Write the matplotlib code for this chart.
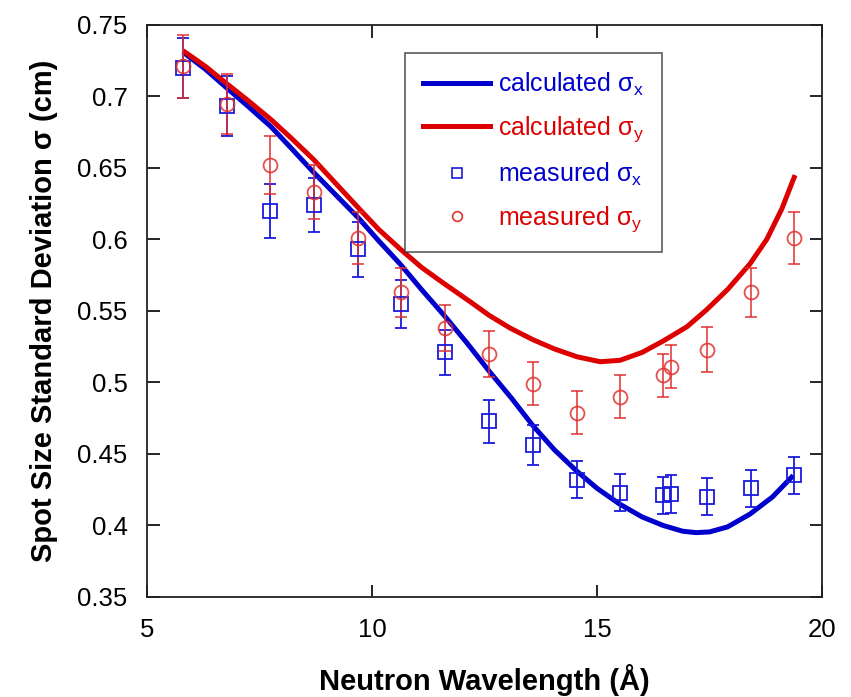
import matplotlib
matplotlib.use("Agg")
import matplotlib.pyplot as plt
from matplotlib.lines import Line2D

plt.rcParams['font.family'] = ['Liberation Sans', 'DejaVu Sans']
plt.rcParams['mathtext.fontset'] = 'custom'
plt.rcParams['mathtext.rm'] = 'Liberation Sans'

# measured data
wl = [5.8, 6.77, 7.73, 8.72, 9.69, 10.65, 11.63, 12.6, 13.57, 14.55, 15.51, 16.47, 16.64, 17.44, 18.42, 19.38]
sx = [0.720, 0.693, 0.620, 0.624, 0.593, 0.555, 0.521, 0.473, 0.456, 0.432, 0.423, 0.421, 0.422, 0.420, 0.426, 0.435]
sx_err = [0.021, 0.021, 0.019, 0.019, 0.019, 0.017, 0.016, 0.015, 0.014, 0.013, 0.013, 0.013, 0.013, 0.013, 0.013, 0.013]
sy = [0.721, 0.695, 0.652, 0.633, 0.601, 0.563, 0.538, 0.520, 0.499, 0.479, 0.490, 0.505, 0.511, 0.523, 0.563, 0.601]
sy_err = [0.022, 0.021, 0.020, 0.019, 0.018, 0.017, 0.016, 0.016, 0.015, 0.015, 0.015, 0.015, 0.015, 0.016, 0.017, 0.018]

# calculated curves
cx_wl = [5.8, 6.3, 6.77, 7.25, 7.75, 8.2, 8.7, 9.2, 9.7, 10.15, 10.62, 11.1, 11.6, 12.1, 12.6, 13.1, 13.57, 14.05, 14.55, 15.0, 15.5, 16.0,
         16.47, 16.9, 17.2, 17.5, 17.9, 18.4, 18.9, 19.36]
cx = [0.731, 0.719, 0.706, 0.693, 0.679, 0.664, 0.647, 0.631, 0.615, 0.599, 0.583, 0.565, 0.547, 0.528, 0.508, 0.489, 0.470, 0.453, 0.438, 0.426, 0.415, 0.406,
      0.400, 0.396, 0.395, 0.3955, 0.399, 0.408, 0.420, 0.435]
cy_wl = [5.8, 6.3, 6.77, 7.25, 7.75, 8.2, 8.7, 9.2, 9.7, 10.15, 10.62, 11.1, 11.63, 12.18, 12.6, 13.07, 13.57, 14.05, 14.55, 15.07, 15.51, 16.0,
         16.47, 17.0, 17.44, 17.9, 18.4, 18.77, 19.1, 19.4]
cy = [0.732, 0.721, 0.709, 0.697, 0.684, 0.671, 0.656, 0.639, 0.622, 0.607, 0.5935, 0.5805, 0.5685, 0.5565, 0.547, 0.538, 0.530, 0.5235, 0.518, 0.5145, 0.5155, 0.521,
      0.529, 0.539, 0.551, 0.565, 0.583, 0.600, 0.621, 0.645]

xticks = [5, 10, 15, 20]
yticks = [0.35, 0.4, 0.45, 0.5, 0.55, 0.6, 0.65, 0.7, 0.75]
ytick_labels = ['0.35', '0.4', '0.45', '0.5', '0.55', '0.6', '0.65', '0.7', '0.75']

blue_line = '#0000cc'
red_line = '#dd0000'
blue_mk = '#1a1add'
red_mk = '#e03030'

fig = plt.figure(figsize=(8.51, 6.97), dpi=100)
ax = fig.add_axes([0.1727, 0.1435, 0.7933, 0.8207])

ax.plot(cx_wl, cx, color=blue_line, lw=3.6, solid_capstyle='butt', solid_joinstyle='round', zorder=3)
ax.plot(cy_wl, cy, color=red_line, lw=3.6, solid_capstyle='butt', solid_joinstyle='round', zorder=3)

ax.errorbar(wl, sx, yerr=sx_err, fmt='s', mfc='none', mec=blue_mk, ms=9.5, mew=1.3,
            ecolor=blue_mk, elinewidth=1.3, capsize=4.5, capthick=1.3, zorder=4)
ax.errorbar(wl, sy, yerr=sy_err, fmt='o', mfc='none', mec=red_mk, ms=10, mew=1.3,
            ecolor=red_mk, elinewidth=1.3, capsize=4.5, capthick=1.3, zorder=4, alpha=0.85)

ax.set_xlim(5, 20)
ax.set_ylim(0.35, 0.75)
ax.set_xticks(xticks)
ax.set_xticklabels([str(t) for t in xticks])
ax.set_yticks(yticks)
ax.set_yticklabels(ytick_labels)
ax.tick_params(direction='in', length=9, width=1.2, labelsize=18.5, top=True, right=True, pad=14)
ax.tick_params(axis='x', pad=15)
for s in ax.spines.values():
    s.set_linewidth(1.3)
    s.set_color('#222222')

ax.set_xlabel('Neutron Wavelength (Å)', fontsize=21, fontweight='bold', labelpad=16)
ax.set_ylabel('Spot Size Standard Deviation σ (cm)', fontsize=21, fontweight='bold', labelpad=14)

handles = [
    Line2D([], [], color=blue_line, lw=3.6),
    Line2D([], [], color=red_line, lw=3.6),
    Line2D([], [], ls='none', marker='s', mfc='none', mec=blue_mk, ms=7, mew=1.2),
    Line2D([], [], ls='none', marker='o', mfc='none', mec=red_mk, ms=7, mew=1.2),
]
labels = [r'calculated σ$_\mathregular{x}$', r'calculated σ$_\mathregular{y}$',
          r'measured σ$_\mathregular{x}$', r'measured σ$_\mathregular{y}$']
leg = ax.legend(handles, labels, loc='upper left', bbox_to_anchor=(0.382, 0.951),
                fontsize=18, frameon=True, fancybox=False, handlelength=2.7,
                handletextpad=0.3, labelspacing=0.66, borderpad=0.72, borderaxespad=0)
leg.get_frame().set_edgecolor('#333333')
leg.get_frame().set_linewidth(1.2)
for t, c in zip(leg.get_texts(), [blue_line, red_line, blue_line, red_line]):
    t.set_color(c)

fig.savefig('out.png', dpi=100)
